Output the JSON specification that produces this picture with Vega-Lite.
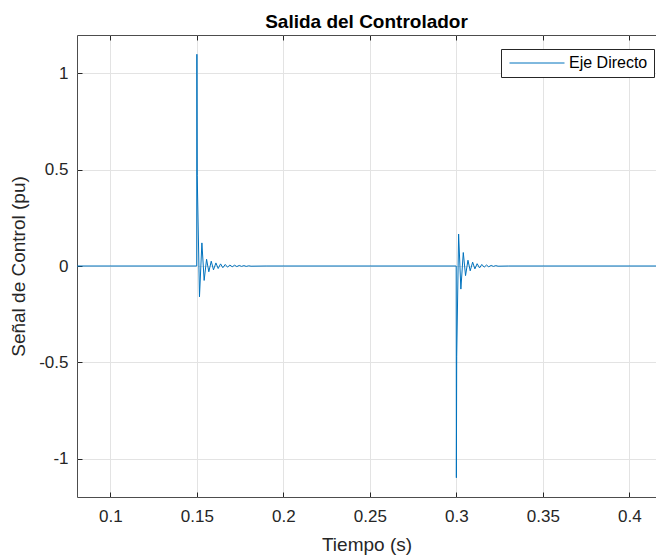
{
  "$schema": "https://vega.github.io/schema/vega-lite/v6.json",
  "width": 579,
  "height": 462,
  "autosize": {"type": "none"},
  "padding": {"left": 77, "top": 35, "right": 0, "bottom": 58},
  "background": "white",
  "title": {"text": "Salida del Controlador", "fontSize": 19, "fontWeight": "bold", "font": "Liberation Sans", "color": "#000000", "anchor": "middle", "offset": 3},
  "config": {"view": {"stroke": "#4d4d4d", "strokeWidth": 1}, "font": "Liberation Sans"},
  "data": {"values": [
    {"t": 0.0807, "v": 0, "s": "Eje Directo"},
    {"t": 0.1499, "v": 0, "s": "Eje Directo"},
    {"t": 0.1500, "v": 1.10, "s": "Eje Directo"},
    {"t": 0.1502, "v": 0.47, "s": "Eje Directo"},
    {"t": 0.1515, "v": -0.16, "s": "Eje Directo"},
    {"t": 0.1529, "v": 0.12, "s": "Eje Directo"},
    {"t": 0.1542, "v": -0.075, "s": "Eje Directo"},
    {"t": 0.1556, "v": 0.035, "s": "Eje Directo"},
    {"t": 0.1569, "v": -0.03, "s": "Eje Directo"},
    {"t": 0.1583, "v": 0.025, "s": "Eje Directo"},
    {"t": 0.1596, "v": -0.02, "s": "Eje Directo"},
    {"t": 0.1610, "v": 0.016, "s": "Eje Directo"},
    {"t": 0.1623, "v": -0.013, "s": "Eje Directo"},
    {"t": 0.1637, "v": 0.011, "s": "Eje Directo"},
    {"t": 0.1650, "v": -0.009, "s": "Eje Directo"},
    {"t": 0.1664, "v": 0.008, "s": "Eje Directo"},
    {"t": 0.1677, "v": -0.006, "s": "Eje Directo"},
    {"t": 0.1691, "v": 0.005, "s": "Eje Directo"},
    {"t": 0.1704, "v": -0.004, "s": "Eje Directo"},
    {"t": 0.1718, "v": 0.004, "s": "Eje Directo"},
    {"t": 0.1731, "v": -0.003, "s": "Eje Directo"},
    {"t": 0.1745, "v": 0.003, "s": "Eje Directo"},
    {"t": 0.1758, "v": -0.002, "s": "Eje Directo"},
    {"t": 0.1772, "v": 0.002, "s": "Eje Directo"},
    {"t": 0.1785, "v": -0.002, "s": "Eje Directo"},
    {"t": 0.1800, "v": 0.001, "s": "Eje Directo"},
    {"t": 0.1813, "v": -0.001, "s": "Eje Directo"},
    {"t": 0.1900, "v": 0, "s": "Eje Directo"},
    {"t": 0.2999, "v": 0, "s": "Eje Directo"},
    {"t": 0.3000, "v": -1.10, "s": "Eje Directo"},
    {"t": 0.3002, "v": -0.47, "s": "Eje Directo"},
    {"t": 0.3013, "v": 0.166, "s": "Eje Directo"},
    {"t": 0.3026, "v": -0.12, "s": "Eje Directo"},
    {"t": 0.3040, "v": 0.07, "s": "Eje Directo"},
    {"t": 0.3053, "v": -0.05, "s": "Eje Directo"},
    {"t": 0.3067, "v": 0.03, "s": "Eje Directo"},
    {"t": 0.3080, "v": -0.025, "s": "Eje Directo"},
    {"t": 0.3094, "v": 0.02, "s": "Eje Directo"},
    {"t": 0.3107, "v": -0.015, "s": "Eje Directo"},
    {"t": 0.3120, "v": 0.012, "s": "Eje Directo"},
    {"t": 0.3134, "v": -0.01, "s": "Eje Directo"},
    {"t": 0.3147, "v": 0.008, "s": "Eje Directo"},
    {"t": 0.3161, "v": -0.006, "s": "Eje Directo"},
    {"t": 0.3174, "v": 0.005, "s": "Eje Directo"},
    {"t": 0.3187, "v": -0.004, "s": "Eje Directo"},
    {"t": 0.3201, "v": 0.003, "s": "Eje Directo"},
    {"t": 0.3214, "v": -0.002, "s": "Eje Directo"},
    {"t": 0.3228, "v": 0.002, "s": "Eje Directo"},
    {"t": 0.3241, "v": -0.001, "s": "Eje Directo"},
    {"t": 0.3300, "v": 0, "s": "Eje Directo"},
    {"t": 0.4154, "v": 0, "s": "Eje Directo"}
  ]},
  "layer": [
    {
      "mark": {"type": "line", "strokeWidth": 1, "clip": true},
      "encoding": {
        "x": {"field": "t", "type": "quantitative",
          "scale": {"domain": [0.0807, 0.4154], "nice": false, "zero": false},
          "axis": {"title": "Tiempo (s)", "values": [0.1, 0.15, 0.2, 0.25, 0.3, 0.35, 0.4],
            "labelExpr": "'' + datum.value", "grid": true, "gridColor": "#e3e3e3", "domain": false,
            "tickColor": "#262626", "tickSize": -5, "labelPadding": 16, "labelFontSize": 17,
            "labelColor": "#262626", "labelFont": "Liberation Sans", "titleFont": "Liberation Sans",
            "titleFontSize": 19, "titleFontWeight": "normal", "titleColor": "#262626",
            "titleY": 47, "titleBaseline": "middle"}},
        "y": {"field": "v", "type": "quantitative",
          "scale": {"domain": [-1.2, 1.2], "nice": false, "zero": false},
          "axis": {"title": "Señal de Control (pu)", "values": [-1, -0.5, 0, 0.5, 1],
            "labelExpr": "'' + datum.value", "grid": true, "gridColor": "#e3e3e3", "domain": false,
            "tickColor": "#262626", "tickSize": -5, "labelPadding": 14, "labelFontSize": 17,
            "labelColor": "#262626", "labelFont": "Liberation Sans", "titleFont": "Liberation Sans",
            "titleFontSize": 19, "titleFontWeight": "normal", "titleColor": "#262626",
            "titleX": -59, "titleBaseline": "middle"}},
        "color": {"field": "s", "type": "nominal", "scale": {"range": ["#0072BD"]},
          "legend": {"title": null, "orient": "none", "legendX": 424, "legendY": 14,
            "symbolType": "M-1,0H9", "symbolSize": 121, "symbolStrokeWidth": 1,
            "symbolFillColor": "transparent",
            "labelFontSize": 16, "labelFont": "Liberation Sans", "labelColor": "#000000",
            "strokeColor": "#262626", "fillColor": "white", "padding": 6, "labelOffset": 46}}
      }
    },
    {
      "mark": {"type": "line", "opacity": 0},
      "encoding": {
        "x": {"field": "t", "type": "quantitative",
          "axis": {"orient": "top", "title": null, "labels": false, "grid": false, "domain": false,
            "values": [0.1, 0.15, 0.2, 0.25, 0.3, 0.35, 0.4], "tickColor": "#262626", "tickSize": -5}},
        "y": {"field": "v", "type": "quantitative", "axis": null}
      }
    }
  ],
  "resolve": {"axis": {"x": "independent", "y": "independent"}}
}
